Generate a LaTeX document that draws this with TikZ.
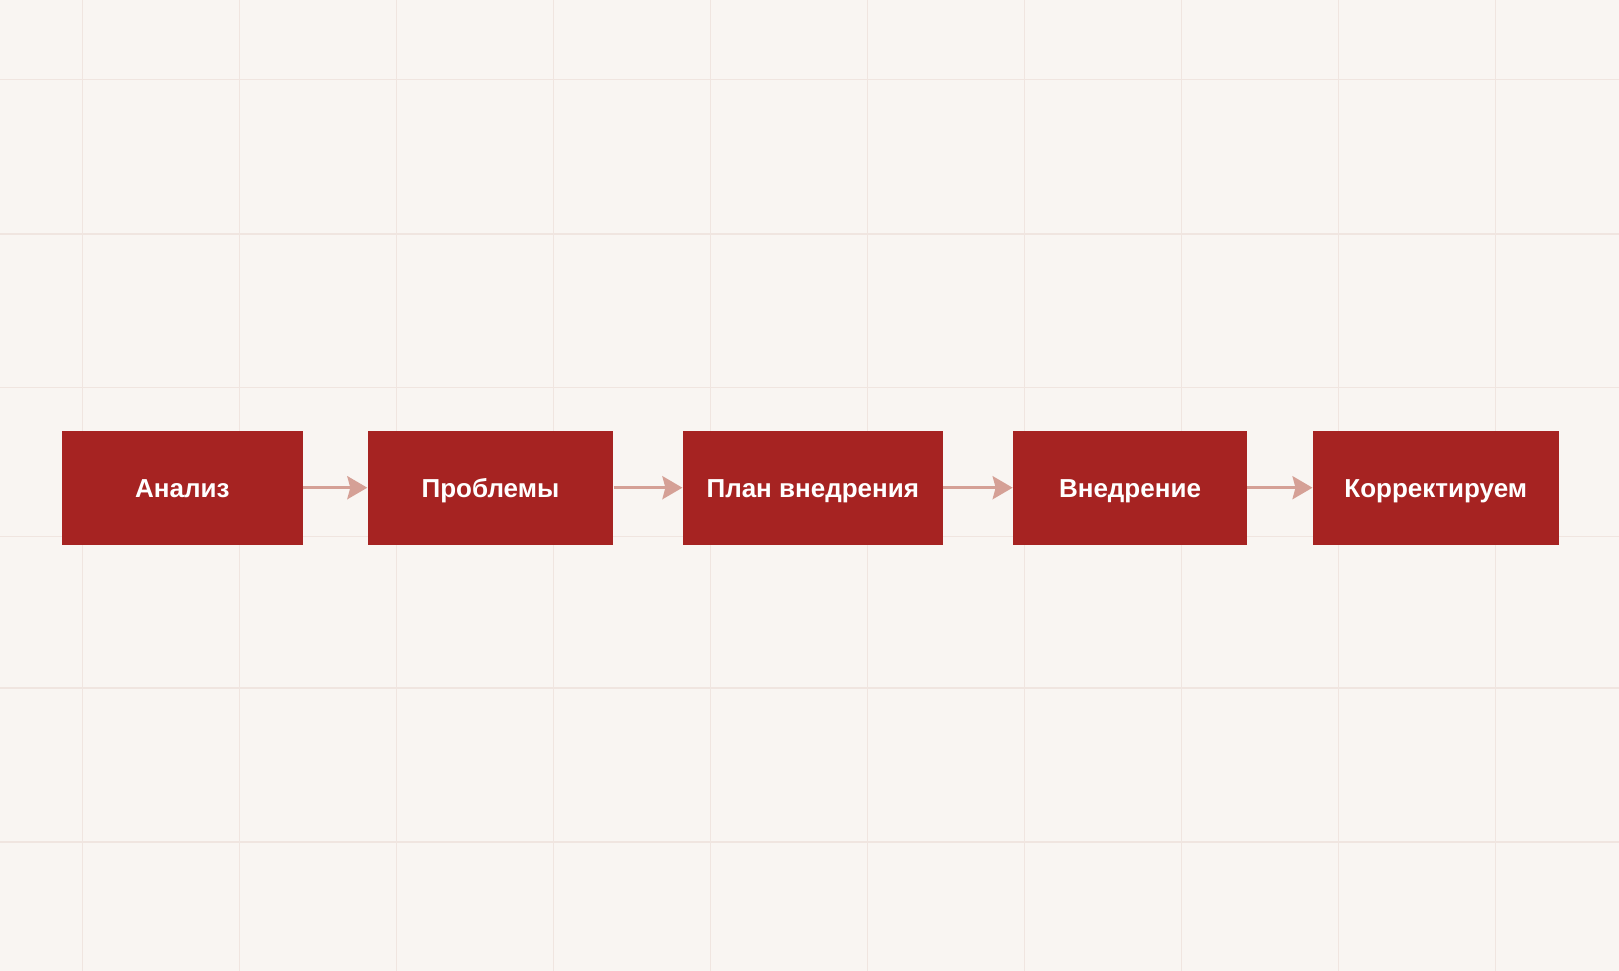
\documentclass[tikz,border=0pt]{standalone}
\usepackage{fontspec}
\setmainfont{Liberation Sans}
\usepackage{xcolor}
\usepackage{tikz}
\usetikzlibrary{arrows.meta, positioning}

\definecolor{paper}{RGB}{249,245,242}
\definecolor{gridline}{RGB}{240,229,224}
\definecolor{stagered}{RGB}{166,35,34}
\definecolor{flowpink}{RGB}{213,160,150}

\tikzset{
	stage/.style = {fill=stagered, text=white, inner sep=0pt, minimum height=114,
		text height=18.6, text depth=0,
		font=\fontsize{26}{30}\selectfont\bfseries},
	flow/.style = {draw=flowpink, line width=3, -{Stealth[length=20, width=23, inset=3]}},
}

\begin{document}
\begin{tikzpicture}[x=1pt, y=-1pt]
			\fill [paper] (0,0) rectangle (1619,971);
			\useasboundingbox (0,0) rectangle (1619,971);
			\foreach \gx in {0,...,9}
				\draw [gridline, line width=1.4] (82.3+157*\gx,0) -- (82.3+157*\gx,971);
			\foreach \gy in {79.3, 234, 387.6, 536.2, 688, 842}
				\draw [gridline, line width=1.4] (0,\gy) -- (1619,\gy);
			\node [stage, minimum width=240.7] (anal) at (182.3,487.7) {Анализ};
			\node [stage, minimum width=245.8] (probl) at (490.4,487.7) {Проблемы};
			\node [stage, minimum width=260.4] (plan) at (812.8,487.7) {План внедрения};
			\node [stage, minimum width=234.3] (vnedr) at (1130,487.7) {Внедрение};
			\node [stage, minimum width=246.2] (korr) at (1435.8,487.7) {Корректируем};
			\draw [flow] (anal) -- (probl);
			\draw [flow] (probl) -- (plan);
			\draw [flow] (plan) -- (vnedr);
			\draw [flow] (vnedr) -- (korr);
		\end{tikzpicture}
\end{document}
